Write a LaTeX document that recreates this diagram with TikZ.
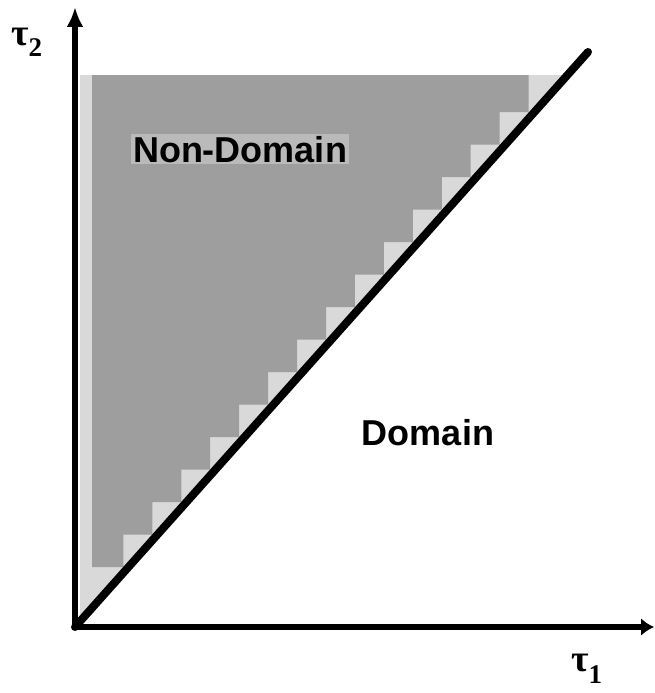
\documentclass[tikz,border=0pt]{standalone}
\usepackage{fontspec}
\setmainfont{Liberation Sans}
\newfontfamily\taufont{Liberation Serif}
\usetikzlibrary{arrows.meta}
\tikzset{
  region/.style={draw=none},
  lightreg/.style={region, fill=black!15},
  darkreg/.style={region, fill=black!38},
  axisline/.style={line width=5.5pt, line join=miter},
  boundary/.style={line width=8pt, line cap=round},
  arealabel/.style={font=\fontsize{36}{36}\selectfont\bfseries, inner sep=2pt, anchor=base},
  axislabel/.style={font=\taufont\bfseries\fontsize{38}{38}\selectfont, inner sep=0pt, anchor=base west}
}
\begin{document}
\begin{tikzpicture}[x=1pt, y=-1pt]
\useasboundingbox (0,0) rectangle (654,693);
% key points (y grows downwards)
\coordinate (O) at (75,627);
\coordinate (ytip) at (75,7);
\coordinate (xtip) at (654,627);
\coordinate (D) at (588,52);
% light gray wedge above the boundary line
\fill[lightreg] (80,75) -- (566.5,75) -- (O) -- (80,627) -- cycle;
% darker staircase inside the wedge
\fill[darkreg] (92,75) -- (528.57,75) -- (528.57,112)
  \foreach \i in {1,...,14} {
    -- ({528.57-28.939*\i},{112+32.5*(\i-1)})
    -- ({528.57-28.939*\i},{112+32.5*\i})
  } -- (92,567) -- cycle;
% boundary line tau1 = tau2
\draw[boundary] (O) -- (D);
% axes
\draw[axisline, arrows={Latex[length=20pt,width=17pt]-Latex[length=13pt,width=18pt]}]
  (ytip) -- (O) -- (xtip);
% labels
\node[arealabel, fill=black!27] (nd) at (240,162) {Non-Domain};
\node[arealabel] (dm) at (428,445) {Domain};
\node[axislabel] (t2) at (11,46) {τ\raisebox{-10pt}{\fontsize{27}{27}\selectfont 2}};
\node[axislabel] (t1) at (571,671) {τ\raisebox{-12pt}{\fontsize{27}{27}\selectfont 1}};
\end{tikzpicture}
\end{document}
